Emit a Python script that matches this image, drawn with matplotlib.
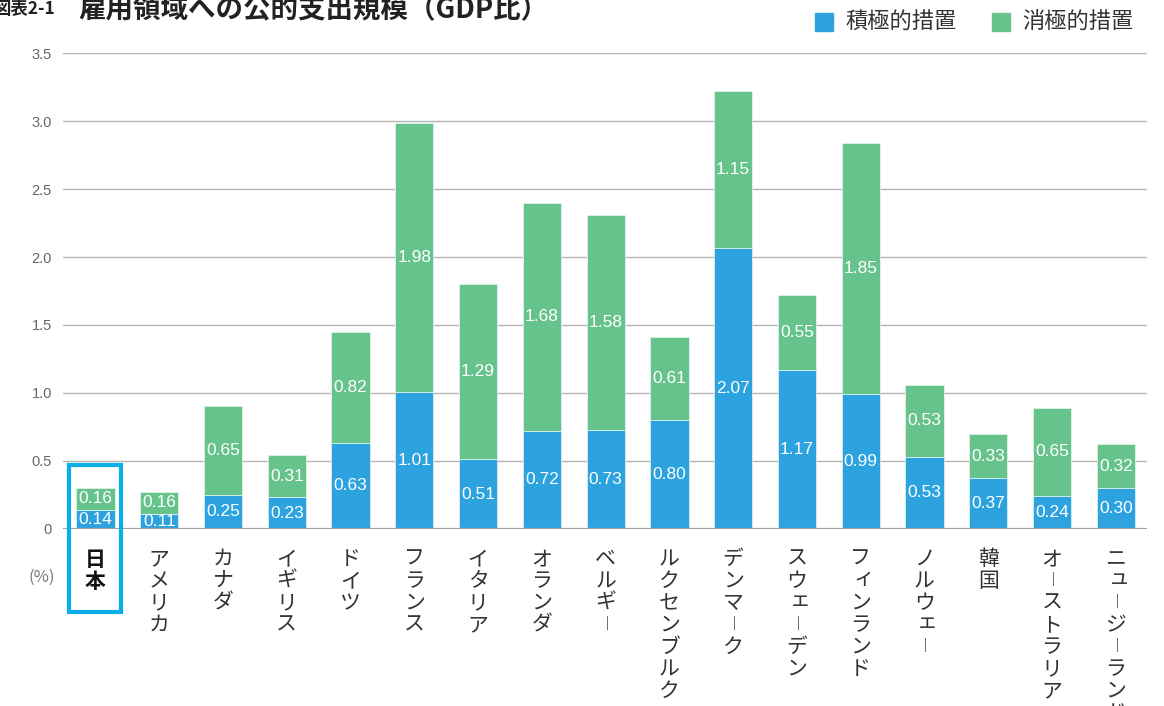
import matplotlib

matplotlib.use("Agg")
import matplotlib.pyplot as plt
from matplotlib.patches import Rectangle
from matplotlib.transforms import blended_transform_factory

plt.rcParams["font.family"] = ["Noto Sans CJK JP", "DejaVu Sans"]

# ---- data ------------------------------------------------------------------
countries = ["日本", "アメリカ", "カナダ", "イギリス", "ドイツ", "フランス",
             "イタリア", "オランダ", "ベルギー", "ルクセンブルク", "デンマーク",
             "スウェーデン", "フィンランド", "ノルウェー", "韓国",
             "オーストラリア", "ニュージーランド"]
active = [0.14, 0.11, 0.25, 0.23, 0.63, 1.01, 0.51, 0.72, 0.73, 0.80, 2.07,
          1.17, 0.99, 0.53, 0.37, 0.24, 0.30]
passive = [0.16, 0.16, 0.65, 0.31, 0.82, 1.98, 1.29, 1.68, 1.58, 0.61, 1.15,
           0.55, 1.85, 0.53, 0.33, 0.65, 0.32]
yticks = [0, 0.5, 1.0, 1.5, 2.0, 2.5, 3.0, 3.5]
ytick_labels = ["0", "0.5", "1.0", "1.5", "2.0", "2.5", "3.0", "3.5"]
series_names = ["積極的措置", "消極的措置"]

BLUE = "#2ca3df"
GREEN = "#66c38b"
CYAN = "#0aaee8"
INK = "#333333"
W, H = 1164, 706
SMALL_KANA = set("ァィゥェォャュョッ")

fig = plt.figure(figsize=(W / 100, H / 100), dpi=100)
ax = fig.add_axes([63 / W, 1 - 528.7 / H, (1147 - 63) / W, (528.7 - 53.3) / H])

x = list(range(len(countries)))
ax.bar(x, active, width=0.6, color=BLUE, edgecolor="#e8f4fa", linewidth=0.5, zorder=3)
ax.bar(x, passive, bottom=active, width=0.6, color=GREEN, edgecolor="#e8f6ee",
       linewidth=0.5, zorder=3)

for i, (a, p) in enumerate(zip(active, passive)):
    ax.text(i, a / 2, f"{a:.2f}", ha="center", va="center", color="white",
            fontsize=12.5, family="Liberation Sans", zorder=4)
    ax.text(i, a + p / 2, f"{p:.2f}", ha="center", va="center", color="white",
            fontsize=12.5, family="Liberation Sans", zorder=4)

ax.set_xlim(-0.51, 16.49)
ax.set_ylim(0, 3.5)
ax.set_yticks(yticks)
ax.set_yticklabels(ytick_labels, family="Liberation Sans", fontsize=10.5, color="#666666")
ax.tick_params(axis="y", length=0, pad=8)
ax.set_xticks([])
for s in ax.spines.values():
    s.set_visible(False)
ax.grid(axis="y", color="#b4b4b4", linewidth=1.0, zorder=0)
ax.axhline(0, color="#a0a0a0", linewidth=1.6, zorder=5)

# ---- vertical category labels ------------------------------------------------
trans = blended_transform_factory(ax.transData, fig.transFigure)
for i, name in enumerate(countries):
    bold = i == 0
    step = 23 if bold else 22
    for k, ch in enumerate(name):
        py = 559 + k * step
        xo = 0
        size = 15
        if ch == "ー":
            ch = "︱"  # vertical long-vowel mark
            xo, size = 0.02, 12
        if ch in SMALL_KANA:
            xo, py = 0.05, py - 3
        ax.text(i + xo, 1 - py / H, ch, transform=trans, ha="center", va="center",
                fontsize=size, color="#111111" if bold else INK,
                fontweight="bold" if bold else "normal", clip_on=False)

# highlight box around Japan
fig.patches.append(Rectangle((69 / W, 1 - 612 / H), 52 / W, 147 / H, fill=False,
                             edgecolor=CYAN, linewidth=3, transform=fig.transFigure))

fig.text(42 / W, 1 - 577 / H, "(%)", ha="center", va="center", fontsize=12,
         color="#777777")

# ---- title & legend ----------------------------------------------------------
fig.text(-6 / W, 1 - 9 / H, "図表2-1", ha="left", va="center", fontsize=12.5,
         fontweight="bold", color="#222222")
fig.text(78 / W, 1 - 10 / H, "雇用領域への公的支出規模（GDP比）", ha="left", va="center",
         fontsize=19.8, fontweight="bold", color="#222222")

for (px, col, label) in [(815, BLUE, series_names[0]), (992, GREEN, series_names[1])]:
    fig.patches.append(Rectangle((px / W, 1 - 31 / H), 18 / W, 18 / H, color=col,
                                 transform=fig.transFigure))
    fig.text((px + 30) / W, 1 - 22 / H, label, ha="left", va="center",
             fontsize=16, color=INK)

fig.savefig("out.png", dpi=100)
